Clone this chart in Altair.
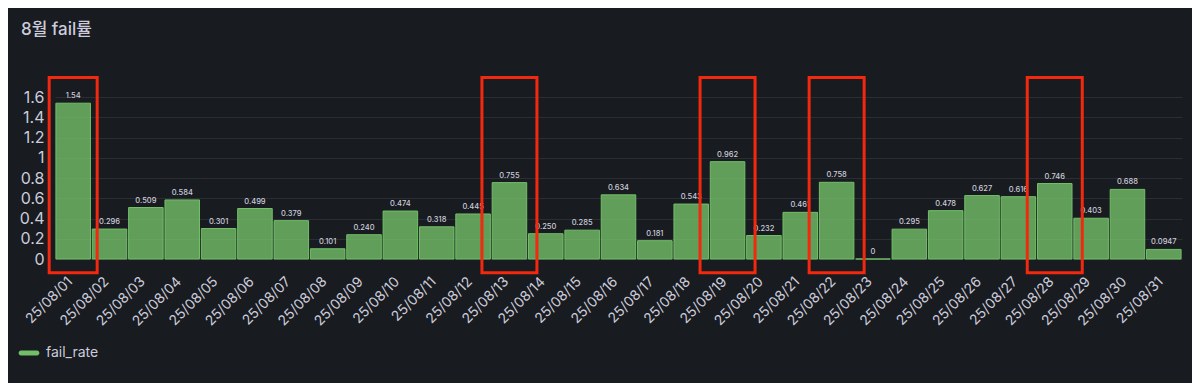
import altair as alt
import pandas as pd

dates = ["25/08/01", "25/08/02", "25/08/03", "25/08/04", "25/08/05", "25/08/06",
         "25/08/07", "25/08/08", "25/08/09", "25/08/10", "25/08/11", "25/08/12",
         "25/08/13", "25/08/14", "25/08/15", "25/08/16", "25/08/17", "25/08/18",
         "25/08/19", "25/08/20", "25/08/21", "25/08/22", "25/08/23", "25/08/24",
         "25/08/25", "25/08/26", "25/08/27", "25/08/28", "25/08/29", "25/08/30",
         "25/08/31"]
fail_rate = [1.54, 0.296, 0.509, 0.584, 0.301, 0.499, 0.379, 0.101, 0.240, 0.474,
             0.318, 0.445, 0.755, 0.250, 0.285, 0.634, 0.181, 0.543, 0.962, 0.232,
             0.461, 0.758, 0, 0.295, 0.478, 0.627, 0.616, 0.746, 0.403, 0.688, 0.0947]
value_labels = ["1.54", "0.296", "0.509", "0.584", "0.301", "0.499", "0.379", "0.101",
                "0.240", "0.474", "0.318", "0.445", "0.755", "0.250", "0.285", "0.634",
                "0.181", "0.543", "0.962", "0.232", "0.461", "0.758", "0", "0.295",
                "0.478", "0.627", "0.616", "0.746", "0.403", "0.688", "0.0947"]
y_ticks = [0, 0.2, 0.4, 0.6, 0.8, 1.0, 1.2, 1.4, 1.6]
highlighted = ["25/08/01", "25/08/13", "25/08/19", "25/08/22", "25/08/28"]
box_top = 1.795
box_bottom = -0.135

TEXT = "#ccccdc"
GREEN = "#73bf69"
FONT = "Inter, Noto Sans CJK KR, sans-serif"

df = pd.DataFrame({"date": dates, "value": fail_rate, "label": value_labels,
                   "series": ["fail_rate"] * len(dates)})
hl = pd.DataFrame({"date": highlighted,
                   "top": [box_top] * len(highlighted),
                   "bottom": [box_bottom] * len(highlighted)})

xscale = alt.Scale(domain=dates, paddingInner=0.05, paddingOuter=0.025)
yscale = alt.Scale(domain=[0, 1.7], nice=False)

xaxis = alt.Axis(title=None, labelAngle=-45, labelAlign="right",
                 labelBaseline="alphabetic", labelPadding=23,
                 labelFontSize=14, labelColor=TEXT, labelFont=FONT,
                 ticks=False, domain=False, grid=False, labelOverlap=False)
yaxis = alt.Axis(title=None, values=y_ticks, format="~g", labelFontSize=16,
                 labelColor=TEXT, labelFont=FONT, labelPadding=11,
                 labelOverlap=False, labelFlush=False, tickCount=9,
                 ticks=False, domain=False, gridColor="#ccccdc",
                 gridOpacity=0.1, gridWidth=1)

bars = alt.Chart(df).mark_bar(fillOpacity=0.8, stroke=GREEN, strokeWidth=1).encode(
    x=alt.X("date:N", scale=xscale, sort=dates, axis=xaxis),
    y=alt.Y("value:Q", scale=yscale, axis=yaxis),
    color=alt.Color("series:N",
                    scale=alt.Scale(domain=["fail_rate"], range=[GREEN]),
                    legend=alt.Legend(title=None, orient="none", legendX=-34, legendY=258,
                                      symbolType="M-1,-0.3L1,-0.3A0.3,0.3 0 0 1 1,0.3L-1,0.3A0.3,0.3 0 0 1 -1,-0.3Z",
                                      symbolSize=256, symbolStrokeWidth=0,
                                      labelFontSize=14, labelColor=TEXT, labelFont=FONT,
                                      labelOffset=9, padding=0)),
)

labels = alt.Chart(df).mark_text(baseline="bottom", dy=-3, fontSize=7.5, fontWeight=500,
                                 color=TEXT, font=FONT).encode(
    x=alt.X("date:N", scale=xscale, sort=dates, axis=xaxis),
    y=alt.Y("value:Q", scale=yscale, axis=yaxis),
    text="label:N",
)

boxes = alt.Chart(hl).mark_bar(fillOpacity=0, stroke="#f2290f", strokeWidth=3).encode(
    x=alt.X("date:N", scale=xscale, sort=dates, axis=xaxis),
    y=alt.Y("top:Q", scale=yscale, axis=yaxis),
    y2="bottom:Q",
    size=alt.condition(alt.datum.date == "25/08/01", alt.value(48), alt.value(55)),
)

chart = alt.layer(bars, labels, boxes).properties(
    width=1127, height=172,
    title=alt.TitleParams("8월 fail률", anchor="start", frame="group", dx=-34, offset=24,
                          fontSize=17, fontWeight=500, color=TEXT, font=FONT,
                          baseline="alphabetic"),
    autosize=alt.AutoSizeParams(type="none"),
    padding={"left": 47, "top": 79, "right": 10, "bottom": 124},
    background="#181b1f",
).configure_view(strokeWidth=0)

chart.save("out.html", embed_options={"renderer": "svg", "actions": False})
